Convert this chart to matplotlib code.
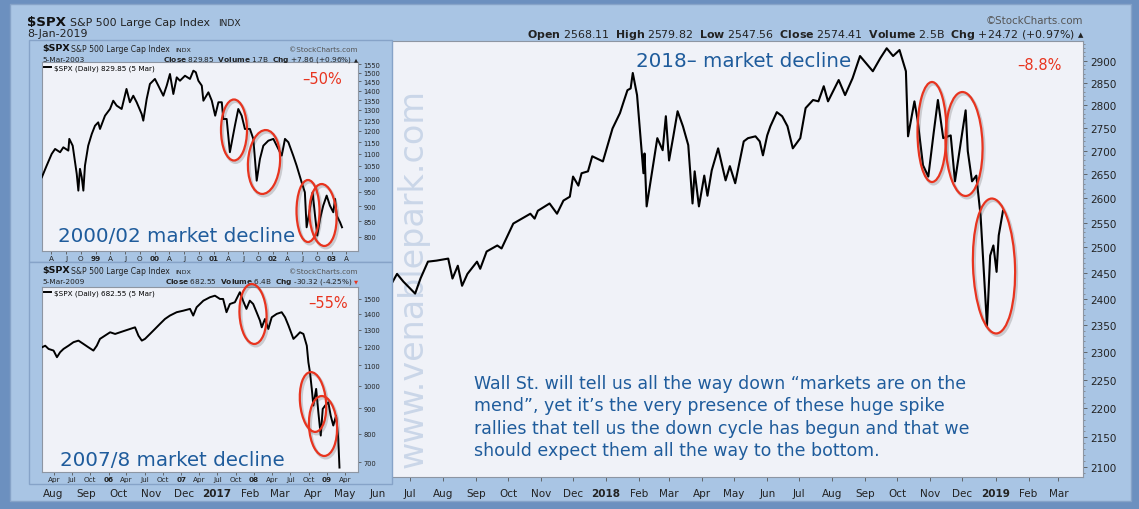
import pandas as pd
import matplotlib
matplotlib.use("Agg")
import matplotlib.pyplot as plt
from matplotlib.patches import Rectangle, Ellipse
from matplotlib.ticker import FixedLocator, NullFormatter, FuncFormatter

W, H = 1139, 510

# main panel: $SPX 2017-2019
main_dates = ["2017-06-15", "2017-06-19", "2017-06-25", "2017-07-06", "2017-07-11", "2017-07-18",
              "2017-07-26", "2017-08-06", "2017-08-10", "2017-08-15", "2017-08-19", "2017-08-24",
              "2017-09-02", "2017-09-05", "2017-09-11", "2017-09-21", "2017-09-25", "2017-10-06",
              "2017-10-22", "2017-10-26", "2017-10-29", "2017-11-09", "2017-11-16", "2017-11-22",
              "2017-11-28", "2017-12-01", "2017-12-06", "2017-12-09", "2017-12-15", "2017-12-19",
              "2017-12-29", "2018-01-07", "2018-01-14", "2018-01-17", "2018-01-21", "2018-01-24",
              "2018-01-26", "2018-01-30", "2018-02-05", "2018-02-06", "2018-02-08", "2018-02-18",
              "2018-02-23", "2018-02-26", "2018-03-01", "2018-03-05", "2018-03-09", "2018-03-14",
              "2018-03-19", "2018-03-23", "2018-03-25", "2018-03-29", "2018-04-03", "2018-04-06",
              "2018-04-10", "2018-04-16", "2018-04-23", "2018-04-27", "2018-05-02", "2018-05-10",
              "2018-05-14", "2018-05-21", "2018-05-25", "2018-05-28", "2018-06-01", "2018-06-04",
              "2018-06-10", "2018-06-15", "2018-06-20", "2018-06-25", "2018-07-02", "2018-07-07",
              "2018-07-14", "2018-07-19", "2018-07-24", "2018-07-28", "2018-08-07", "2018-08-13",
              "2018-08-20", "2018-08-27", "2018-09-08", "2018-09-15", "2018-09-21", "2018-09-27",
              "2018-10-03", "2018-10-09", "2018-10-11", "2018-10-17", "2018-10-20", "2018-10-25",
              "2018-10-30", "2018-11-04", "2018-11-08", "2018-11-13", "2018-11-20", "2018-11-24",
              "2018-12-01", "2018-12-04", "2018-12-06", "2018-12-10", "2018-12-14", "2018-12-18",
              "2018-12-24", "2018-12-27", "2018-12-30", "2019-01-02", "2019-01-04", "2019-01-08"]
main_close = [2433, 2448, 2433, 2410, 2439, 2472,
              2474, 2478, 2439, 2464, 2425, 2448,
              2472, 2458, 2492, 2504, 2498, 2548,
              2568, 2558, 2574, 2589, 2568, 2595,
              2603, 2645, 2626, 2652, 2656, 2688,
              2677, 2748, 2782, 2804, 2833, 2837,
              2872, 2822, 2652, 2694, 2583, 2727,
              2701, 2775, 2679, 2731, 2786, 2753,
              2712, 2589, 2656, 2583, 2647, 2605,
              2658, 2705, 2637, 2667, 2631, 2720,
              2727, 2731, 2720, 2690, 2733, 2753,
              2784, 2775, 2753, 2705, 2727, 2793,
              2811, 2808, 2842, 2808, 2856, 2822,
              2860, 2911, 2876, 2906, 2929, 2911,
              2925, 2876, 2731, 2808, 2766, 2669,
              2645, 2738, 2811, 2727, 2733, 2635,
              2742, 2788, 2699, 2635, 2647, 2564,
              2349, 2484, 2504, 2452, 2524, 2574]

# upper inset: 2000/02 decline
dot_dates = ["1998-02-01", "1998-03-03", "1998-04-03", "1998-04-24", "1998-05-25", "1998-06-14",
             "1998-07-15", "1998-07-21", "1998-08-11", "1998-09-05", "1998-09-15", "1998-09-25",
             "1998-10-06", "1998-10-16", "1998-10-26", "1998-11-15", "1998-12-07", "1998-12-27",
             "1999-01-16", "1999-01-27", "1999-02-27", "1999-03-30", "1999-04-19", "1999-05-10",
             "1999-06-10", "1999-07-10", "1999-07-31", "1999-08-21", "1999-09-11", "1999-10-12",
             "1999-10-22", "1999-11-12", "1999-12-02", "2000-01-02", "2000-01-23", "2000-02-23",
             "2000-03-15", "2000-04-04", "2000-04-25", "2000-05-16", "2000-06-05", "2000-07-06",
             "2000-08-06", "2000-08-27", "2000-09-11", "2000-09-27", "2000-10-18", "2000-10-28",
             "2000-11-28", "2000-12-19", "2001-01-09", "2001-01-29", "2001-02-19", "2001-02-28",
             "2001-03-21", "2001-04-10", "2001-05-11", "2001-06-01", "2001-06-22", "2001-07-12",
             "2001-08-12", "2001-09-02", "2001-09-23", "2001-10-13", "2001-11-03", "2001-12-04",
             "2002-01-04", "2002-02-04", "2002-02-25", "2002-03-17", "2002-04-07", "2002-05-07",
             "2002-05-28", "2002-06-28", "2002-07-18", "2002-07-29", "2002-08-18", "2002-09-04",
             "2002-09-19", "2002-10-03", "2002-10-20", "2002-11-09", "2002-11-30", "2002-12-20",
             "2003-01-10", "2003-01-21", "2003-01-31", "2003-02-21", "2003-03-05"]
dot_close = [1005, 1051, 1099, 1120, 1106, 1127,
             1113, 1164, 1134, 1018, 955, 1038,
             1005, 955, 1051, 1134, 1186, 1224,
             1240, 1209, 1272, 1305, 1347, 1322,
             1305, 1409, 1339, 1373, 1339, 1280,
             1248, 1356, 1436, 1464, 1427, 1373,
             1427, 1492, 1382, 1473, 1454, 1482,
             1464, 1511, 1502, 1454, 1427, 1347,
             1391, 1347, 1272, 1339, 1339, 1256,
             1256, 1106, 1224, 1305, 1272, 1209,
             1209, 1164, 992, 1078, 1134, 1156,
             1164, 1120, 1092, 1164, 1149, 1092,
             1051, 986, 949, 830, 890, 949,
             868, 804, 857, 902, 937, 902,
             879, 925, 868, 846, 830]

# lower inset: 2007/8 decline
gfc_dates = ["2005-02-01", "2005-02-17", "2005-03-06", "2005-03-31", "2005-04-17", "2005-05-03",
             "2005-05-20", "2005-06-14", "2005-07-09", "2005-08-03", "2005-08-28", "2005-09-22",
             "2005-10-17", "2005-11-03", "2005-11-19", "2005-12-14", "2006-01-09", "2006-02-03",
             "2006-02-28", "2006-03-25", "2006-04-19", "2006-05-14", "2006-05-31", "2006-06-17",
             "2006-07-03", "2006-07-28", "2006-08-22", "2006-09-16", "2006-10-11", "2006-11-05",
             "2006-12-09", "2007-01-11", "2007-02-14", "2007-03-02", "2007-03-19", "2007-04-22",
             "2007-05-25", "2007-06-19", "2007-07-14", "2007-07-30", "2007-08-16", "2007-09-02",
             "2007-09-27", "2007-10-22", "2007-11-07", "2007-11-24", "2007-12-11", "2007-12-28",
             "2008-01-14", "2008-01-31", "2008-02-09", "2008-02-25", "2008-03-13", "2008-03-30",
             "2008-04-24", "2008-05-19", "2008-06-05", "2008-06-22", "2008-07-17", "2008-08-03",
             "2008-08-19", "2008-09-05", "2008-09-22", "2008-09-30", "2008-10-08", "2008-10-17",
             "2008-10-25", "2008-11-08", "2008-11-19", "2008-12-01", "2008-12-11", "2008-12-23",
             "2009-01-08", "2009-01-20", "2009-02-02", "2009-02-16", "2009-02-27", "2009-03-05"]
gfc_close = [1197, 1206, 1188, 1179, 1143, 1170,
             1188, 1206, 1226, 1235, 1216, 1197,
             1179, 1206, 1245, 1264, 1284, 1274,
             1284, 1294, 1304, 1314, 1264, 1235,
             1245, 1274, 1304, 1335, 1366, 1388,
             1410, 1420, 1432, 1388, 1443, 1488,
             1512, 1523, 1500, 1500, 1410, 1465,
             1477, 1548, 1488, 1432, 1488, 1465,
             1410, 1356, 1314, 1366, 1304, 1377,
             1399, 1410, 1377, 1325, 1245, 1264,
             1284, 1274, 1206, 1116, 1065, 986,
             912, 986, 884, 793, 898, 912,
             926, 870, 831, 870, 780, 683]

main_yticks = list(range(2100, 2901, 50))
dot_yticks = list(range(800, 1551, 50))
gfc_yticks = list(range(700, 1501, 100))

main_xlabels = ["Aug", "Sep", "Oct", "Nov", "Dec", "2017", "Feb", "Mar", "Apr", "May", "Jun",
                "Jul", "Aug", "Sep", "Oct", "Nov", "Dec", "2018", "Feb", "Mar", "Apr", "May",
                "Jun", "Jul", "Aug", "Sep", "Oct", "Nov", "Dec", "2019", "Feb", "Mar"]
dot_xlabels = ["A", "J", "O", "99", "A", "J", "O", "00", "A", "J", "O", "01",
               "A", "J", "O", "02", "A", "J", "O", "03", "A"]
gfc_xlabels = ["Apr", "Jul", "Oct", "06", "Apr", "Jul", "Oct", "07", "Apr", "Jul", "Oct", "08",
               "Apr", "Jul", "Oct", "09", "Apr"]

PANEL = "#a9c5e4"
EDGE = "#86a3c8"
PLOT_BG = "#f0f2f8"
TXT_BLUE = "#1f5c9c"
RED = "#e8341f"
INK = "#222222"

plt.rcParams["font.family"] = ["DejaVu Sans"]

fig = plt.figure(figsize=(W / 100, H / 100), dpi=100, facecolor="#6c90bf")


def box(x0, y0, x1, y1):
    return [x0 / W, 1 - y1 / H, (x1 - x0) / W, (y1 - y0) / H]


def put(x, y, s, **kw):
    kw.setdefault("va", "baseline")
    kw.setdefault("color", INK)
    return fig.text(x / W, 1 - y / H, s, **kw)


def ring(x, y, w, h, angle=0):
    shadow = Ellipse(((x + 1.5) / 100, (H - y - 2) / 100), w / 100, h / 100, angle=angle,
                     transform=fig.dpi_scale_trans, fill=False, ec="#444444", lw=2.2,
                     alpha=0.22, zorder=5)
    el = Ellipse((x / 100, (H - y) / 100), w / 100, h / 100, angle=angle,
                 transform=fig.dpi_scale_trans, fill=False, ec=RED, lw=1.6, zorder=6)
    fig.add_artist(shadow)
    fig.add_artist(el)


def panel(x0, y0, x1, y1, z):
    l, b, w, h = box(x0, y0, x1, y1)
    fig.add_artist(Rectangle((l, b), w, h, transform=fig.transFigure, fc=PANEL, ec=EDGE,
                             lw=1, zorder=z))


def setup(ax, dates, close, ylim, xlim, yticks, first_month, xlabels, step,
          ysize, xsize, ypad, xpad, tlen, lw):
    ax.set_facecolor(PLOT_BG)
    line, = ax.plot(pd.to_datetime(dates), close, color="black", lw=lw, zorder=3)
    ax.set_yscale("log")
    ax.set_ylim(*ylim)
    ax.set_xlim(pd.Timestamp(xlim[0]), pd.Timestamp(xlim[1]))
    ax.yaxis.tick_right()
    ax.yaxis.set_major_locator(FixedLocator(yticks))
    ax.yaxis.set_major_formatter(FuncFormatter(lambda v, p: f"{v:.0f}"))
    ax.yaxis.set_minor_locator(FixedLocator([]))
    ax.yaxis.set_minor_formatter(NullFormatter())
    months = pd.date_range(first_month, periods=len(xlabels), freq=f"{step}MS")
    ax.set_xticks(months, labels=xlabels)
    for t in ax.get_xticklabels():
        if t.get_text()[0].isdigit():
            t.set_fontweight("bold")
    ax.tick_params(axis="y", length=tlen, width=0.6, labelsize=ysize, pad=ypad,
                   colors="#555555", labelcolor=INK)
    ax.tick_params(axis="x", length=tlen, width=0.6, labelsize=xsize, pad=xpad,
                   colors="#555555", labelcolor=INK)
    for s in ax.spines.values():
        s.set_color("#8d96a3")
        s.set_linewidth(0.8)
    return line


# outer frame
panel(10, 5, 1131, 502, -1)

# main chart
ax = fig.add_axes(box(30, 42, 1083, 478), zorder=0)
setup(ax, main_dates, main_close, (2083, 2946), ("2016-07-10", "2019-03-24"), main_yticks,
      "2016-08-01", main_xlabels, 1, 7.5, 7.5, 2, 5, 3, 1.5)
ax.yaxis.set_minor_locator(FixedLocator(list(range(2090, 2950, 10))))
ax.tick_params(axis="y", which="minor", length=1.5, width=0.5, colors="#777777")
ax.text((413 - 30) / 1053, (478 - 278) / 436, "www.venablepark.com", rotation=90,
        fontsize=24, color="#cad6e8", ha="center", va="center", transform=ax.transAxes,
        zorder=1)

put(27, 25.7, "$SPX", fontsize=9.6, fontweight="bold", color="#111111")
put(70, 25.7, "S&P 500 Large Cap Index", fontsize=7.9)
put(218, 25.7, "INDX", fontsize=6.6)
put(27, 37.3, "8-Jan-2019", fontsize=7.9)
put(1083, 24, "\u00a9StockCharts.com", fontsize=7.4, color="#555555", ha="right")
put(1075, 38.5, r"$\bf{Open}$ 2568.11  $\bf{High}$ 2579.82  $\bf{Low}$ 2547.56  "
                r"$\bf{Close}$ 2574.41  $\bf{Volume}$ 2.5B  $\bf{Chg}$ +24.72 (+0.97%)",
    fontsize=7.9, ha="right")
put(1083, 37.5, "\u25b2", fontsize=5, ha="right")

put(636, 66.7, "2018\u2013 market decline", fontsize=14.3, color=TXT_BLUE)
put(1039, 65, "\u20138.8%", fontsize=10.5, color=RED, ha="center", va="center")
# multi-line text: the baseline given is that of the last line
put(474, 456, "Wall St. will tell us all the way down \u201cmarkets are on the\n"
              "mend\u201d, yet it\u2019s the very presence of these huge spike\n"
              "rallies that tell us the down cycle has begun and that we\n"
              "should expect them all the way to the bottom.",
    fontsize=12.5, color=TXT_BLUE, linespacing=1.32)

# inset panels
insets = [
    dict(top=41, bottom=263, ax_top=63, ax_bottom=252, dates=dot_dates, close=dot_close,
         ylim=(758, 1562), xlim=("1998-02-02", "2003-06-12"), yticks=dot_yticks,
         first="1998-04-01", xlabels=dot_xlabels, date="5-Mar-2003",
         stats=r"$\bf{Close}$ 829.85  $\bf{Volume}$ 1.7B  $\bf{Chg}$ +7.86 (+0.96%)",
         arrow="\u25b2", arrow_color=INK, legend="$SPX (Daily) 829.85 (5 Mar)"),
    dict(top=263, bottom=485, ax_top=288, ax_bottom=473, dates=gfc_dates, close=gfc_close,
         ylim=(669, 1586), xlim=("2005-02-01", "2009-06-06"), yticks=gfc_yticks,
         first="2005-04-01", xlabels=gfc_xlabels, date="5-Mar-2009",
         stats=r"$\bf{Close}$ 682.55  $\bf{Volume}$ 6.4B  $\bf{Chg}$ -30.32 (-4.25%)",
         arrow="\u25bc", arrow_color=RED, legend="$SPX (Daily) 682.55 (5 Mar)"),
]
for d in insets:
    panel(29, d["top"], 392, d["bottom"], 1)
    iax = fig.add_axes(box(42, d["ax_top"], 358, d["ax_bottom"]), zorder=2)
    ln = setup(iax, d["dates"], d["close"], d["ylim"], d["xlim"], d["yticks"], d["first"],
               d["xlabels"], 3, 4.8, 5.2, 2, 1, 2, 1.4)
    iax.legend([ln], [d["legend"]], loc="upper left", frameon=False, fontsize=5.2,
               handlelength=0.9, handletextpad=0.4, borderaxespad=0.1, borderpad=0.2)
    y0 = d["top"] + 10.5
    put(42, y0, "$SPX", fontsize=6.8, fontweight="bold", color="#111111")
    put(71, y0, "S&P 500 Large Cap Index", fontsize=5.6)
    put(175, y0, "INDX", fontsize=4.6)
    put(358, y0, "\u00a9StockCharts.com", fontsize=5.2, color="#555555", ha="right")
    put(42, y0 + 10.3, d["date"], fontsize=5.3)
    put(352, y0 + 10.3, d["stats"], fontsize=5.3, ha="right")
    put(358, y0 + 10, d["arrow"], fontsize=3.8, ha="right", color=d["arrow_color"])

put(58, 242.3, "2000/02 market decline", fontsize=14.3, color=TXT_BLUE)
put(60, 466, "2007/8 market decline", fontsize=14.3, color=TXT_BLUE)
put(322, 80, "\u201350%", fontsize=10.5, color=RED, ha="center", va="center")
put(328, 304, "\u201355%", fontsize=10.5, color=RED, ha="center", va="center")

# red rings around the spike rallies
for x, y, w, h, a in [(234, 131, 26, 61, 0), (264, 163, 32, 64, -4),
                      (308, 212, 23, 62, 0), (323, 216, 27, 62, 3),
                      (253, 315, 27, 60, 3), (313, 403, 26, 60, 5), (323, 427, 28, 60, 3),
                      (932, 133, 29, 100, 0), (964, 145, 37, 104, 2), (994, 267, 42, 135, 2)]:
    ring(x, y, w, h, a)

fig.savefig("out.png", dpi=100, facecolor=fig.get_facecolor())
